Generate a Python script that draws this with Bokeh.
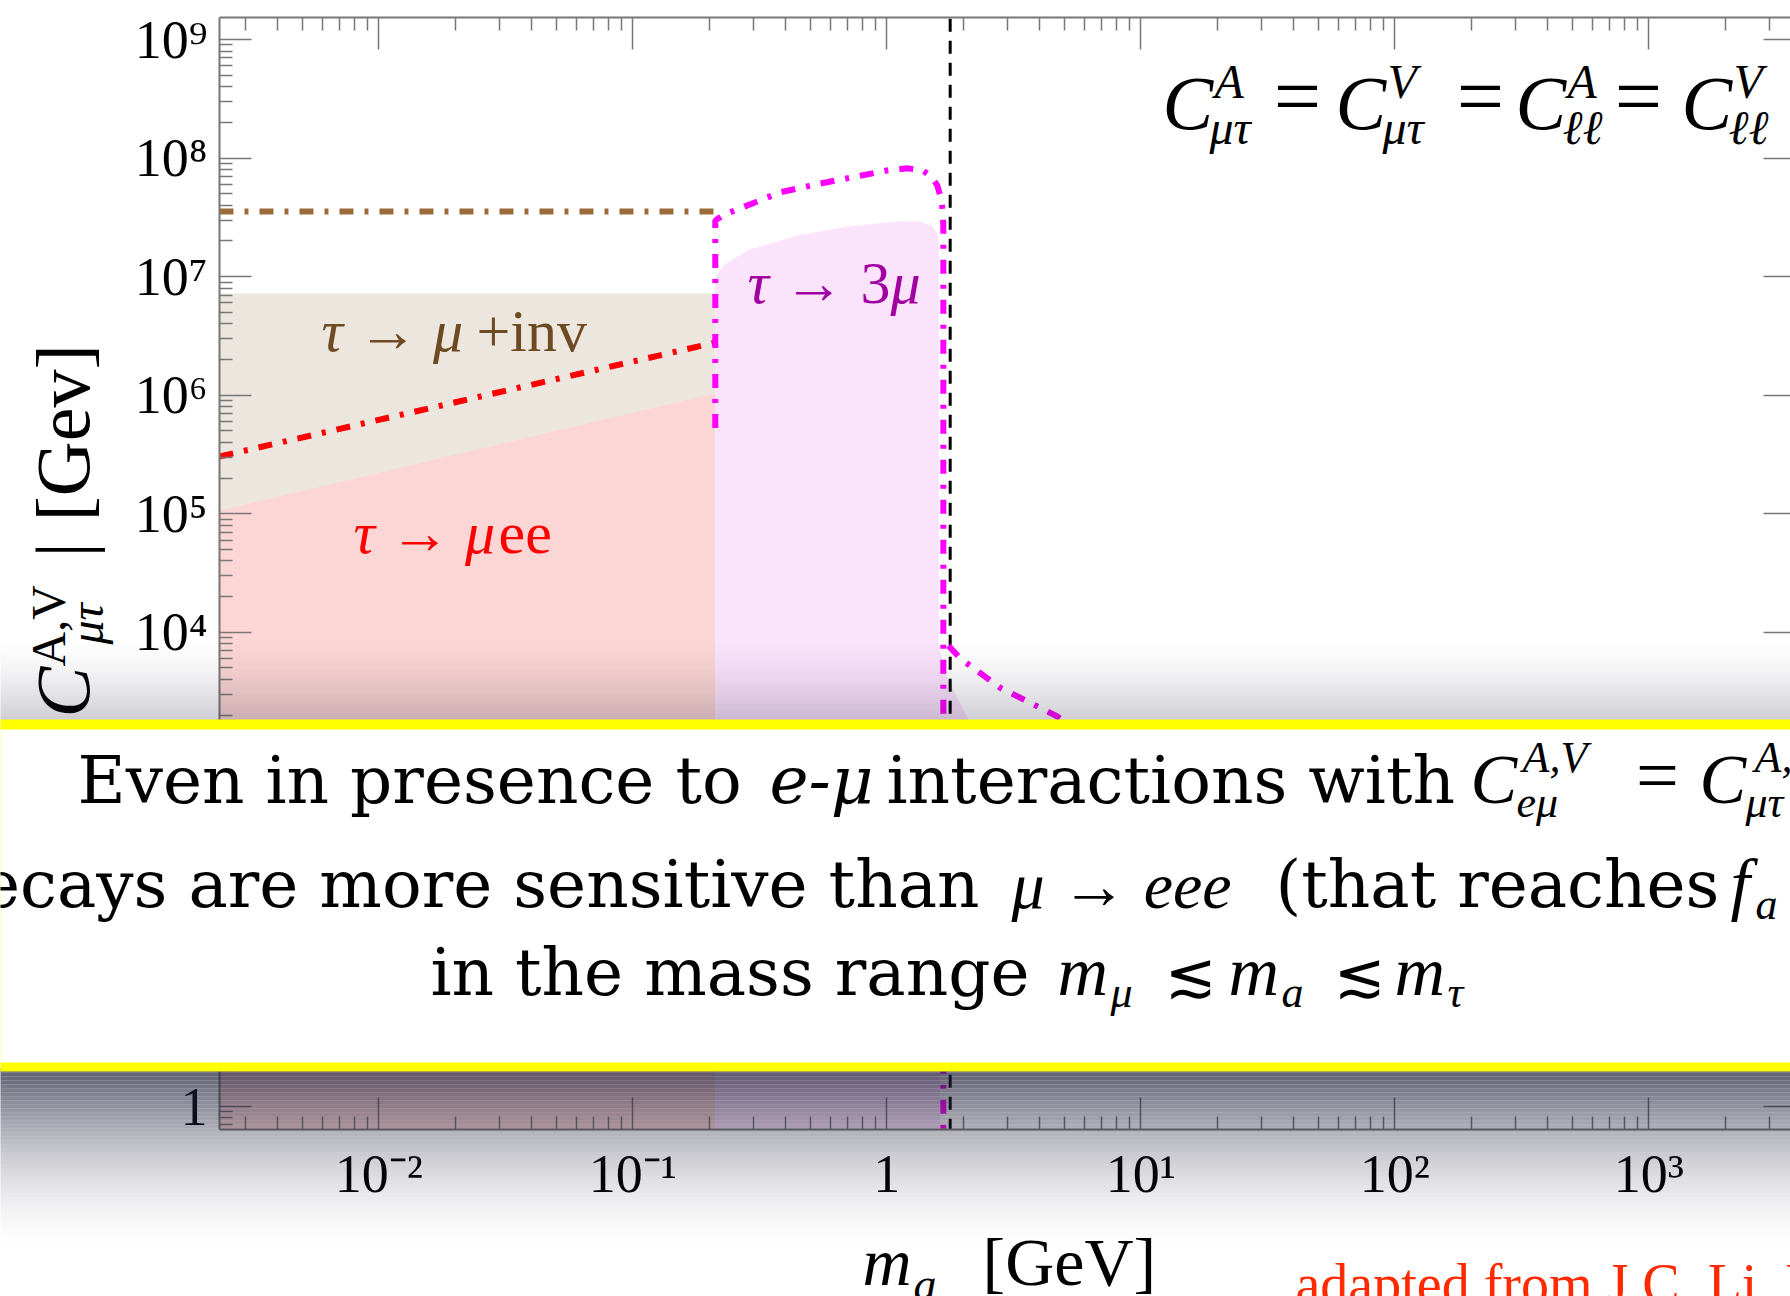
import math
from bokeh.plotting import figure
from bokeh.models import (Range1d, FixedTicker, LogAxis, CustomJSTickFormatter, Label)
from bokeh.embed import file_html
from bokeh.resources import INLINE

# ---------------- data ----------------
ma_edge = [0.00236, 0.2113]                 # m_a [GeV], left edge .. 2 m_mu
inv_fill_top = [7.2e6, 7.2e6]               # tau -> mu + inv excluded region
muee_fill_top = [1.06e5, 1.04e6]            # tau -> mu ee excluded region
muee_proj = [3.04e5, 2.78e6]                # tau -> mu ee projection (dash-dot)
inv_proj = [3.54e7, 3.54e7]                 # tau -> mu + inv projection (dash-dot)

tri_fill_ma = [0.2113, 0.2113, 0.2275, 0.283, 0.445, 0.70, 1.10, 1.36, 1.50, 1.58, 1.60,
               1.60, 1.70, 2.08, 2.3, 1.62, 1.62]
tri_fill_fa = [0.4, 9.8e6, 1.24e7, 1.66e7, 2.22e7, 2.63e7, 2.93e7, 2.9e7, 2.7e7, 2.35e7, 2.0e7,
               8.0e3, 4.5e3, 1.9e3, 1.0e3, 100, 0.4]

tri_proj_ma = [0.2113, 0.2113, 0.234, 0.242, 0.381, 0.547, 0.787, 1.0, 1.20, 1.38, 1.50,
               1.58, 1.635, 1.665, 1.67, 1.67]
tri_proj_fa = [5.3e5, 2.97e7, 3.47e7, 3.49e7, 5.15e7, 6.1e7, 7.1e7, 7.85e7, 8.2e7, 7.9e7, 7.0e7,
               5.9e7, 4.6e7, 3.5e7, 2.5e7, 0.4]
tri_tail_ma = [1.75, 1.95, 2.80, 4.61, 10.0]
tri_tail_fa = [7.7e3, 6.0e3, 3.4e3, 1.99e3, 735]

m_tau = 1.777

x_ticks = [1e-2, 1e-1, 1, 10, 100, 1000]
x_tick_labels = ["10⁻²", "10⁻¹", "1", "10¹", "10²", "10³"]
y_ticks = [1, 10, 100, 1e3, 1e4, 1e5, 1e6, 1e7, 1e8, 1e9]
y_tick_labels = ["1", "10", "10²", "10³", "10⁴", "10⁵", "10⁶", "10⁷", "10⁸", "10⁹"]
x_minor = [m * 10.0 ** k for k in range(-3, 4) for m in range(2, 10)]
y_minor = [m * 10.0 ** k for k in range(-1, 10) for m in range(2, 10)]

# ---------------- main chart ----------------
W, H = 1790, 1296
p = figure(width=W, height=H, x_axis_type="log", y_axis_type="log",
           x_range=Range1d(10 ** -2.627, 10 ** 3.558),
           y_range=Range1d(10 ** -0.194, 10 ** 9.186),
           output_backend="svg", toolbar_location=None,
           min_border_left=219, min_border_top=17, min_border_right=0,
           min_border_bottom=167)
p.outline_line_color = None
p.grid.visible = False
p.background_fill_color = "white"
p.border_fill_color = "white"

AX = "#777777"
FMT = """
let best = 0, bd = 1e9;
for (let i = 0; i < tv.length; i++) {
  const d = Math.abs(Math.log10(tv[i]) - Math.log10(tick));
  if (d < bd) { bd = d; best = i; }
}
return tl[best];
"""


def style_axis(ax, ticks, minor, labels=None, show=True, standoff=12):
    ax.ticker = FixedTicker(ticks=ticks, minor_ticks=minor)
    ax.axis_line_color = AX
    ax.axis_line_width = 2
    ax.major_tick_line_color = AX
    ax.minor_tick_line_color = AX
    ax.major_tick_line_width = 1.5
    ax.minor_tick_line_width = 1.5
    ax.major_tick_in = 32
    ax.major_tick_out = 0
    ax.minor_tick_in = 13
    ax.minor_tick_out = 0
    if show:
        ax.formatter = CustomJSTickFormatter(args=dict(tv=ticks, tl=labels), code=FMT)
        ax.major_label_text_font = "Liberation Serif"
        ax.major_label_text_font_size = "54px"
        ax.major_label_text_color = "black"
        ax.major_label_standoff = standoff
    else:
        ax.major_label_text_font_size = "1px"
        ax.major_label_text_alpha = 0
        ax.major_label_standoff = 0


style_axis(p.xaxis[0], x_ticks, x_minor, x_tick_labels, standoff=14)
style_axis(p.yaxis[0], y_ticks, y_minor, y_tick_labels, standoff=12)
top_ax = LogAxis()
style_axis(top_ax, x_ticks, x_minor, show=False)
p.add_layout(top_ax, "above")
right_ax = LogAxis()
style_axis(right_ax, y_ticks, y_minor, show=False)
right_ax.axis_line_color = None
right_ax.major_tick_in = 27
right_ax.minor_tick_in = 0
p.add_layout(right_ax, "right")

bot = [0.4, 0.4]
p.varea(x=ma_edge, y1=bot, y2=inv_fill_top, fill_color="#ede6df")
p.varea(x=ma_edge, y1=bot, y2=muee_fill_top, fill_color="#fcd6d4")
p.patch(x=tri_fill_ma, y=tri_fill_fa, fill_color="#fce3fc", line_color=None)

DD = "14 11 4 11"
p.line(ma_edge, inv_proj, line_color="#9c6b3a", line_width=6, line_dash=DD)
p.line(ma_edge, muee_proj, line_color="#ff0000", line_width=6, line_dash=DD)
p.line([m_tau, m_tau], [0.4, 3e9], line_color="black", line_width=3, line_dash="13 9")
p.line(tri_proj_ma, tri_proj_fa, line_color="#ff00ff", line_width=6, line_dash=DD)
p.line(tri_tail_ma, tri_tail_fa, line_color="#ff00ff", line_width=6, line_dash=DD)


def txt(fig, x, base, s, size, font="Liberation Serif", style="normal", color="black",
        align="left", angle=0.0, level="annotation"):
    """place text by its baseline (canvas px); Bokeh anchors at the text middle"""
    k = 0.346 if font.startswith("DejaVu") else 0.3375
    if angle:
        xx, yy = x - k * size, base
    else:
        xx, yy = x, base - k * size
    fig.add_layout(Label(x=xx, y=yy, x_units="canvas", y_units="canvas", text=s,
                         text_font=font, text_font_size=f"{size}px",
                         text_font_style=style, text_color=color, text_align=align,
                         text_baseline="middle", angle=angle, level=level))


# curve labels
BR, RD, PU = "#6e4a22", "#ff0000", "#a000a0"
txt(p, 321, 351, "τ → μ", 60, style="italic", color=BR)
txt(p, 476, 351, "+inv", 60, color=BR)
txt(p, 353, 553, "τ → μ", 60, style="italic", color=RD)
txt(p, 498, 553, "ee", 60, color=RD)
txt(p, 747, 303, "τ →", 60, style="italic", color=PU)
txt(p, 860, 303, "3", 60, color=PU)
txt(p, 890, 303, "μ", 60, style="italic", color=PU)

# top-right formula
for cx, sup, sub in [(1162, "A", "μτ"), (1335, "V", "μτ"), (1515, "A", "ℓℓ"), (1681, "V", "ℓℓ")]:
    txt(p, cx, 128, "C", 76, style="italic")
    txt(p, cx + 52, 97, sup, 48, style="italic")
    txt(p, cx + 47, 143, sub, 48, style="italic")
for ex in [1297, 1480, 1638]:
    txt(p, ex, 124, "=", 84, align="center")

# ---------------- slide overlay (a transparent figure over the chart) ----------------
ov = figure(width=W, height=H, x_range=Range1d(0, W), y_range=Range1d(H, 0),
            output_backend="svg", toolbar_location=None, title_location=None,
            x_axis_location=None, y_axis_location=None,
            min_border=0, min_border_left=0, min_border_right=0,
            min_border_top=0, min_border_bottom=0)
ov.outline_line_color = None
ov.background_fill_color = None
ov.border_fill_color = None
ov.grid.visible = False
ov.styles = {"position": "absolute", "left": "0px", "top": "0px"}

# y-axis label (rotated, reads bottom to top), drawn beneath the shadow and the box
R = math.pi / 2
UL = "underlay"
txt(ov, 88, 796, "f", 76, style="italic", angle=R, level=UL)
txt(ov, 102, 772, "a", 48, style="italic", angle=R, level=UL)
txt(ov, 88, 751, "/", 76, angle=R, level=UL)
txt(ov, 88, 717, "C", 76, style="italic", angle=R, level=UL)
txt(ov, 64, 666, "A,V", 48, angle=R, level=UL)
txt(ov, 102, 644, "μτ", 48, style="italic", angle=R, level=UL)
txt(ov, 88, 557, "|", 76, angle=R, level=UL)
txt(ov, 88, 521, "[Gev]", 76, angle=R, level=UL)

# x-axis label and credit
txt(ov, 862, 1284, "m", 68, style="italic", level=UL)
txt(ov, 913, 1300, "a", 46, style="italic", level=UL)
txt(ov, 982, 1284, "[GeV]", 68, level=UL)
txt(ov, 1295, 1302, "adapted from J.C. Li, M", 56, color="#ff2a00", level=UL)

# shadow gradient above and below the box
SH = "#20203a"
g_top, g_bot, g_alpha = [], [], []
for yy in range(634, 721, 3):
    t = (yy - 634) / 87.0
    g_top.append(yy); g_bot.append(yy + 3); g_alpha.append(0.24 * t ** 1.6)
for yy in range(1068, 1252, 4):
    t = (yy - 1068) / 184.0
    g_top.append(yy); g_bot.append(yy + 4); g_alpha.append(0.72 * (1 - t) ** 1.8)
ov.quad(left=[-10] * len(g_top), right=[W + 10] * len(g_top), top=g_top, bottom=g_bot,
        fill_color=SH, fill_alpha=g_alpha, line_color=None)

# yellow-framed white box
ov.quad(left=[-10], right=[W + 10], top=[719], bottom=[1071], fill_color="#ffff00", line_color=None)
ov.quad(left=[-10], right=[W + 10], top=[729], bottom=[1062], fill_color="#ffffff", line_color=None)

PF = "DejaVu Serif"
L1, L2, L3 = 803, 907, 995
txt(ov, 77, L1, "Even in presence to", 66, font=PF)
txt(ov, 769, L1, "e-μ", 66, font=PF, style="italic")
txt(ov, 886, L1, "interactions with", 66, font=PF)
txt(ov, 1470, L1, "C", 70, style="italic")
txt(ov, 1522, 772, "A,V", 44, style="italic")
txt(ov, 1516, 817, "eμ", 44, style="italic")
txt(ov, 1657, L1 - 3, "=", 76, align="center")
txt(ov, 1699, L1, "C", 70, style="italic")
txt(ov, 1754, 772, "A,V", 44, style="italic")
txt(ov, 1745, 817, "μτ", 44, style="italic")

txt(ov, 979, L2, "decays are more sensitive than", 66, font=PF, align="right")
txt(ov, 1011, L2, "μ → eee", 66, style="italic")
txt(ov, 1275, L2, "(that reaches", 66, font=PF)
txt(ov, 1730, L2, "f", 70, style="italic")
txt(ov, 1755, L2 + 12, "a", 44, style="italic")

txt(ov, 430, L3, "in the mass range", 66, font=PF)
for mx, sub in [(1057, "μ"), (1228, "a"), (1394, "τ")]:
    txt(ov, mx, L3, "m", 70, style="italic")
    txt(ov, mx + 53, L3 + 12, sub, 44, style="italic")
for lx in [1164, 1333]:
    txt(ov, lx, L3, "≲", 62, font="DejaVu Sans")

open("out.html", "w").write(file_html([p, ov], INLINE))
